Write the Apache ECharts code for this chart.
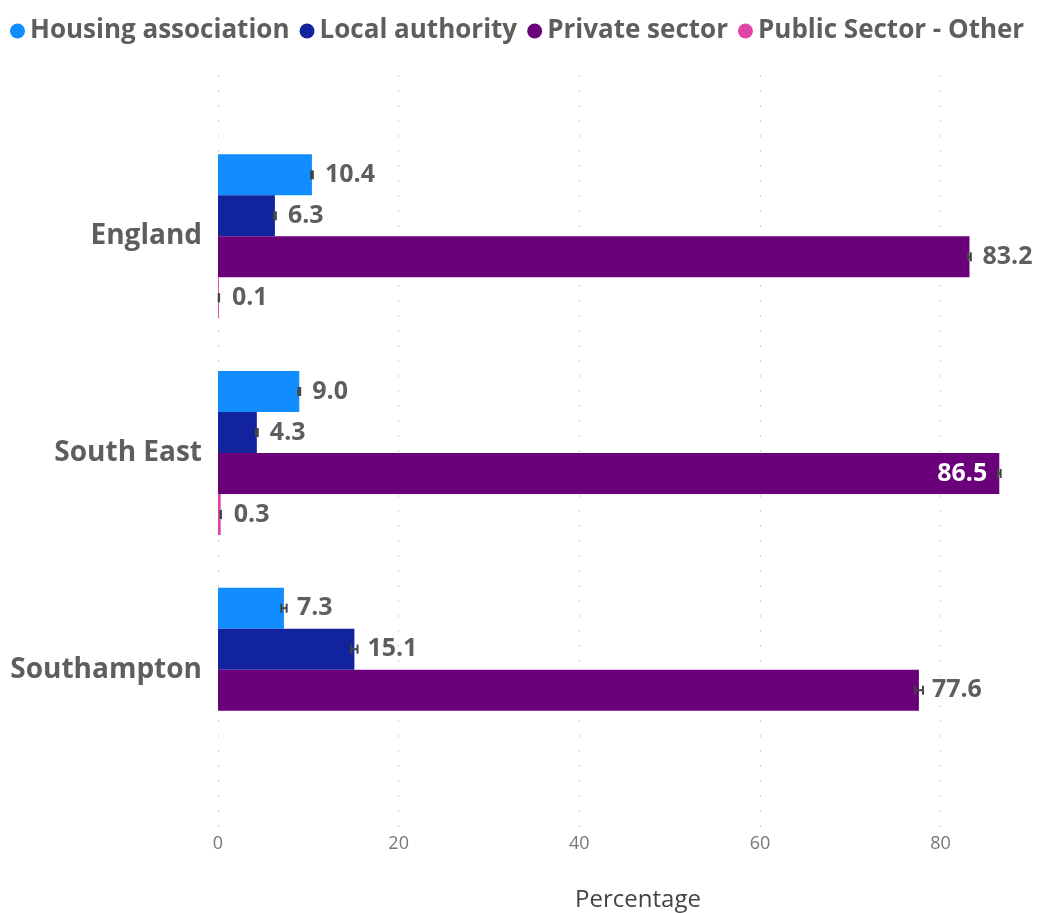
<!DOCTYPE html>
<html>
<head>
<meta charset="utf-8">
<script src="https://cdn.jsdelivr.net/npm/echarts@6/dist/echarts.min.js"></script>
<style>
  html, body { margin: 0; padding: 0; background: #fff; }
  #box { width: 1038px; height: 913px; }
</style>
</head>
<body>
<div id="box"></div>
<script>
// categories and values
const categories = ['England', 'South East', 'Southampton'];
const housingAssociation = [10.4, 9.0, 7.3];
const localAuthority = [6.3, 4.3, 15.1];
const privateSector = [83.2, 86.5, 77.6];
const publicOther = [0.1, 0.3, null];
// error margins (half width of the whiskers)
const haErr = [0.1, 0.1, 0.3];
const laErr = [0.1, 0.1, 0.35];
const psErr = [0.15, 0.15, 0.45];
const poErr = [0.02, 0.03, null];
const xTicks = [0, 20, 40, 60, 80];

const seriesNames = ['Housing association', 'Local authority', 'Private sector', 'Public Sector - Other'];
const colors = ['#118DFF', '#12239E', '#6B007B', '#E044A7'];
const font = 'Open Sans';
const BAR_W = 41;
const AXIS_MAX = 93;
const PLOT_W = 840; // plot runs past the right edge of the canvas

let myecharts = echarts.init(document.getElementById('box'));

function barSeries(idx, vals) {
  return {
    name: seriesNames[idx],
    type: 'bar',
    xAxisIndex: 0,
    yAxisIndex: 0,
    barWidth: BAR_W,
    barGap: '0%',
    itemStyle: { color: colors[idx] },
    data: vals.map(function (v) {
      if (v == null) return '-';
      // label does not fit to the right of the longest bar: put it inside
      if (v > 85) {
        return { value: v, label: { position: 'insideRight', color: '#fff', distance: 12 } };
      }
      return v;
    }),
    label: {
      show: true,
      position: 'right',
      distance: 13,
      fontFamily: font,
      fontSize: 25,
      fontWeight: 'bold',
      color: '#605E5C',
      formatter: function (p) { return Number(p.value).toFixed(1); }
    }
  };
}

function errorSeries(idx, vals, errs) {
  let d = [];
  vals.forEach(function (v, i) {
    if (v != null) d.push([v, i, errs[i]]);
  });
  return {
    name: 'err' + idx,
    type: 'custom',
    xAxisIndex: 0,
    yAxisIndex: 0,
    silent: true,
    z: 5,
    encode: { x: 0, y: 1 },
    data: d,
    renderItem: function (params, api) {
      let v = api.value(0), c = api.value(1), e = api.value(2);
      let lo = api.coord([v - e, c]);
      let hi = api.coord([v + e, c]);
      let y = lo[1] + (idx - 1.5) * BAR_W;
      let st = { stroke: '#444', lineWidth: 2 };
      return {
        type: 'group',
        children: [
          { type: 'line', shape: { x1: lo[0], y1: y, x2: hi[0], y2: y }, style: st },
          { type: 'line', shape: { x1: lo[0], y1: y - 4.5, x2: lo[0], y2: y + 4.5 }, style: st },
          { type: 'line', shape: { x1: hi[0], y1: y - 4.5, x2: hi[0], y2: y + 4.5 }, style: st }
        ]
      };
    }
  };
}

let options = {
  color: colors,
  textStyle: { fontFamily: font },
  legend: {
    data: seriesNames,
    left: 10,
    right: 0,
    top: 18,
    padding: 0,
    icon: 'circle',
    itemWidth: 15,
    itemHeight: 15,
    itemGap: 10,
    textStyle: { fontFamily: font, fontSize: 26, fontWeight: 'bold', color: '#605E5C' }
  },
  grid: [
    // bars
    { left: 218, width: PLOT_W, top: 128, height: 650, outerBoundsMode: 'none' },
    // gridlines + axis labels
    { left: 218, width: PLOT_W, top: 75, bottom: 83, outerBoundsMode: 'none' }
  ],
  xAxis: [
    {
      gridIndex: 0, type: 'value', min: 0, max: AXIS_MAX,
      show: false, splitLine: { show: false }
    },
    {
      gridIndex: 1, type: 'value', min: 0, max: AXIS_MAX, interval: 20,
      name: 'Percentage',
      nameLocation: 'middle',
      nameGap: 58,
      nameTextStyle: { fontFamily: font, fontSize: 24, color: '#444' },
      axisLine: { show: false },
      axisTick: { show: false },
      axisLabel: {
        fontFamily: font, fontSize: 18, color: '#777', margin: 5,
        showMaxLabel: false,
        formatter: function (v) { return xTicks.indexOf(v) >= 0 ? String(v) : ''; }
      },
      splitLine: { show: true, lineStyle: { color: '#cfcfcf', width: 1, type: [2, 13] } }
    }
  ],
  yAxis: [
    {
      gridIndex: 0, type: 'category', inverse: true, data: categories,
      axisLine: { show: false },
      axisTick: { show: false },
      axisLabel: { fontFamily: font, fontSize: 28, fontWeight: 'bold', color: '#605E5C', margin: 16 }
    },
    { gridIndex: 1, type: 'value', show: false, splitLine: { show: false } }
  ],
  series: [
    barSeries(0, housingAssociation),
    barSeries(1, localAuthority),
    barSeries(2, privateSector),
    barSeries(3, publicOther),
    errorSeries(0, housingAssociation, haErr),
    errorSeries(1, localAuthority, laErr),
    errorSeries(2, privateSector, psErr),
    errorSeries(3, publicOther, poErr)
  ]
};
myecharts.setOption(options);
window.onresize = function () {
  myecharts.resize();
};
</script>
</body>
</html>
